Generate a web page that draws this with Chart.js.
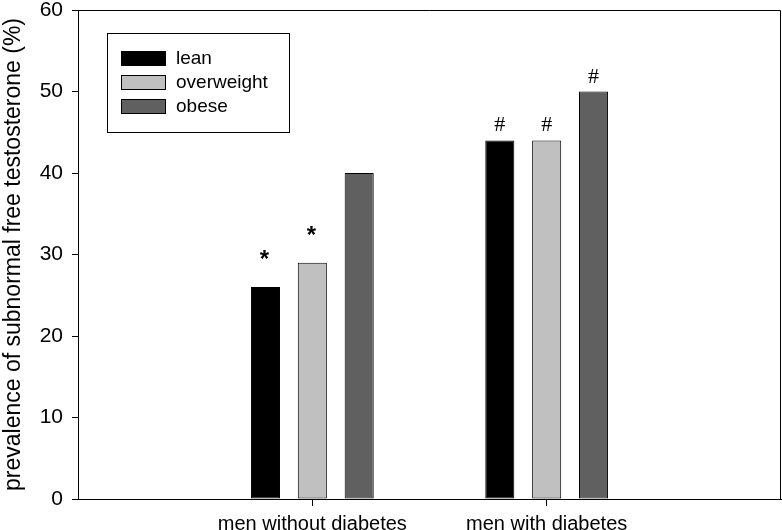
<!DOCTYPE html>
<html>
<head>
<meta charset="utf-8">
<script src="https://cdn.jsdelivr.net/npm/chart.js@4/dist/chart.umd.min.js"></script>
<style>
  body { margin: 0; background: #fff; }
</style>
</head>
<body>
<canvas id="myChart" width="782" height="530"></canvas>
<script>
// chart data
const categories = ['men without diabetes', 'men with diabetes'];
const seriesNames = ['lean', 'overweight', 'obese'];
const leanValues = [26, 44];
const overweightValues = [29, 44];
const obeseValues = [40, 50];
// significance marks above each bar
const leanMarks = ['*', '#'];
const overweightMarks = ['*', '#'];
const obeseMarks = ['', '#'];
const yTicks = [0, 10, 20, 30, 40, 50, 60];
const yTitle = 'prevalence of subnormal free testosterone (%)';

const FONT = 'Arial, "Liberation Sans", sans-serif';

// x axis runs 0..3 with the two groups sitting at 1 and 2
const xLabels = [''].concat(categories, ['']);
function pad(arr) {
    return [null].concat(arr, [null]);
}

const seriesValues = [leanValues, overweightValues, obeseValues];
const seriesMarks = [leanMarks, overweightMarks, obeseMarks];
const seriesColors = ['#000000', '#c0c0c0', '#606060'];

const datasets = seriesNames.map((name, i) => ({
    label: name,
    data: pad(seriesValues[i]),
    backgroundColor: seriesColors[i],
    borderColor: '#000000',
    borderWidth: 1,
    borderSkipped: false
}));

// no extra label padding around the plot, so the area sits where we want it
function noPad(scale) {
    scale.paddingTop = 0;
    scale.paddingBottom = 0;
    scale.paddingLeft = 0;
    scale.paddingRight = 0;
}

// frame, legend box and the * / # marks
const extras = {
    id: 'extras',
    afterDraw(chart) {
        const ctx = chart.ctx;
        const area = chart.chartArea;
        ctx.save();

        // top and right frame lines
        ctx.strokeStyle = '#000';
        ctx.lineWidth = 1;
        ctx.beginPath();
        ctx.moveTo(area.left, area.top + 0.5);
        ctx.lineTo(area.right - 0.5, area.top + 0.5);
        ctx.lineTo(area.right - 0.5, area.bottom);
        ctx.stroke();

        // marks above bars
        ctx.fillStyle = '#000';
        ctx.textAlign = 'center';
        ctx.textBaseline = 'alphabetic';
        chart.data.datasets.forEach((ds, i) => {
            const meta = chart.getDatasetMeta(i);
            seriesMarks[i].forEach((m, j) => {
                if (!m) return;
                const bar = meta.data[j + 1];
                if (m === '*') {
                    ctx.font = 'bold 24px ' + FONT;
                    ctx.fillText(m, bar.x - 1, bar.y - 20);
                } else {
                    ctx.font = '22px "Liberation Serif", "Times New Roman", serif';
                    ctx.fillText(m, bar.x, bar.y - 9);
                }
            });
        });

        // legend
        const lx = area.left + 29;
        const ly = area.top + 23;
        ctx.strokeStyle = '#000';
        ctx.strokeRect(lx + 0.5, ly + 0.5, 182, 99);
        ctx.font = '19px ' + FONT;
        ctx.textAlign = 'left';
        ctx.textBaseline = 'middle';
        seriesNames.forEach((name, i) => {
            const sy = ly + 18 + i * 24;
            ctx.fillStyle = seriesColors[i];
            ctx.fillRect(lx + 14, sy, 45, 14);
            ctx.strokeRect(lx + 14.5, sy + 0.5, 44, 14);
            ctx.fillStyle = '#000';
            ctx.fillText(name, lx + 69, sy + 8);
        });

        ctx.restore();
    }
};

const ctx = document.getElementById('myChart').getContext('2d');
const myChart = new Chart(ctx, {
    type: 'bar',
    data: {
        labels: xLabels,
        datasets: datasets
    },
    options: {
        responsive: false,
        animation: false,
        layout: {
            padding: { top: 10, right: 1, left: 0, bottom: 0 }
        },
        categoryPercentage: 0.6,
        barPercentage: 0.62,
        plugins: {
            legend: { display: false },
            tooltip: { enabled: false }
        },
        scales: {
            x: {
                type: 'category',
                offset: false,
                border: { display: true, color: '#000', width: 1 },
                grid: {
                    offset: false,
                    drawOnChartArea: false,
                    drawTicks: true,
                    tickLength: 7,
                    color: (c) => (c.index === 1 || c.index === 2) ? '#000' : 'rgba(0,0,0,0)'
                },
                ticks: {
                    color: '#000',
                    font: { family: FONT, size: 20 },
                    maxRotation: 0,
                    autoSkip: false,
                    padding: 6
                },
                afterFit(scale) {
                    scale.height = 31;
                    noPad(scale);
                }
            },
            y: {
                min: 0,
                max: 60,
                border: { display: true, color: '#000', width: 1 },
                grid: {
                    drawOnChartArea: false,
                    drawTicks: true,
                    tickLength: 6,
                    color: '#000'
                },
                afterBuildTicks(scale) {
                    scale.ticks = yTicks.map(v => ({ value: v }));
                },
                ticks: {
                    color: '#000',
                    font: { family: FONT, size: 21 },
                    padding: 9
                },
                title: {
                    display: true,
                    text: yTitle,
                    color: '#000',
                    font: { family: FONT, size: 23 },
                    padding: 0
                },
                afterFit(scale) {
                    scale.width = 78;
                    noPad(scale);
                }
            }
        }
    },
    plugins: [extras]
});
</script>
</body>
</html>
